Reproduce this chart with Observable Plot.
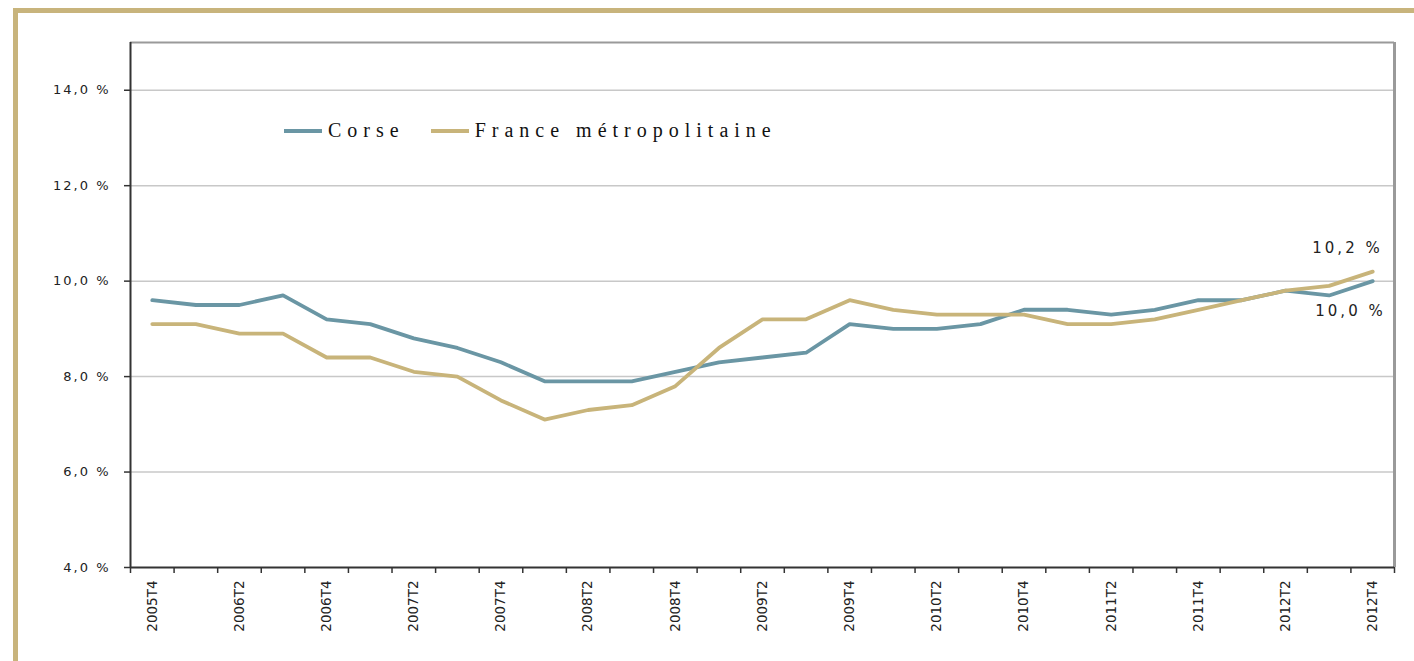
<!DOCTYPE html>
<html>
<head>
<meta charset="utf-8">
<script src="https://cdn.jsdelivr.net/npm/d3@7"></script>
<script src="https://cdn.jsdelivr.net/npm/@observablehq/plot@0.6"></script>
<style>
  body { margin: 0; background: #fff; }
  #wrap { position: relative; width: 1414px; height: 661px; overflow: hidden; background: #fff; }
  #frame { position: absolute; left: 13px; top: 8px; right: -10px; bottom: -10px;
           border-left: 5px solid #c8b47c; border-top: 5px solid #c8b47c; }
  #chart { position: absolute; left: 0; top: 0; }
  #legend { position: absolute; left: 284px; top: 119px; font-family: "Liberation Serif", serif;
            font-size: 20px; letter-spacing: 6px; color: #111; display: flex; align-items: center; white-space: nowrap; }
  #legend .sw { display: inline-block; width: 38px; height: 4px; margin-right: 6px; }
  #legend .it { display: flex; align-items: center; }
  #legend .it + .it { margin-left: 26px; }
</style>
</head>
<body>
<div id="wrap">
  <div id="frame"></div>
  <div id="chart"></div>
  <div id="legend"></div>
</div>
<script>
const quarters = ["2005T4","2006T1","2006T2","2006T3","2006T4","2007T1","2007T2","2007T3","2007T4",
  "2008T1","2008T2","2008T3","2008T4","2009T1","2009T2","2009T3","2009T4",
  "2010T1","2010T2","2010T3","2010T4","2011T1","2011T2","2011T3","2011T4",
  "2012T1","2012T2","2012T3","2012T4"];
const corse = [9.6,9.5,9.5,9.7,9.2,9.1,8.8,8.6,8.3,7.9,7.9,7.9,8.1,8.3,8.4,8.5,9.1,9.0,9.0,9.1,9.4,9.4,9.3,9.4,9.6,9.6,9.8,9.7,10.0];
const france = [9.1,9.1,8.9,8.9,8.4,8.4,8.1,8.0,7.5,7.1,7.3,7.4,7.8,8.6,9.2,9.2,9.6,9.4,9.3,9.3,9.3,9.1,9.1,9.2,9.4,9.6,9.8,9.9,10.2];
const seriesNames = ["Corse", "France métropolitaine"];
const seriesColors = ["#6a96a4", "#c8b47a"];
const yTicks = [4, 6, 8, 10, 12, 14];
const yMax = 15;

const fmt = v => v.toFixed(1).replace(".", ",") + " %";
const seriesValues = [corse, france];
const rows = [];
seriesNames.forEach((s, k) => quarters.forEach((q, i) => rows.push({i, q, s, v: seriesValues[k][i]})));
const last = quarters.length - 1;
const endRows = seriesNames.map((s, k) => ({i: last, s, v: seriesValues[k][last], k}));

const plot = Plot.plot({
  width: 1414, height: 661,
  marginLeft: 130, marginRight: 20, marginTop: 42, marginBottom: 94,
  style: { fontFamily: "DejaVu Sans, sans-serif", background: "transparent", overflow: "visible" },
  x: { type: "linear", domain: [-0.5, quarters.length - 0.5], label: null },
  y: { domain: [yTicks[0], yMax], label: null },
  color: { domain: seriesNames, range: seriesColors },
  marks: [
    Plot.gridY(yTicks.slice(1), { stroke: "#c8c8c8", strokeOpacity: 1, strokeWidth: 1.5 }),
    Plot.ruleY([yMax], { stroke: "#9a9a9a", strokeWidth: 2 }),
    Plot.ruleX([quarters.length - 0.5], { stroke: "#9a9a9a", strokeWidth: 3 }),
    Plot.axisY(yTicks, { tickSize: 6, tickPadding: 14, tickFormat: fmt, fontSize: 13, stroke: "#333", strokeWidth: 1.5, fill: "#222", label: null }),
    Plot.axisX(d3.range(-0.5, quarters.length, 1), { tickSize: 6, tickFormat: () => "", stroke: "#333", strokeWidth: 1.5, label: null }),
    Plot.axisX(d3.range(0, quarters.length, 2), { tickSize: 0, tickPadding: 13, tickRotate: -90, tickFormat: i => quarters[i], fontSize: 13.5, fill: "#222", label: null }),
    Plot.ruleX([-0.5], { stroke: "#333", strokeWidth: 2 }),
    Plot.ruleY([yTicks[0]], { stroke: "#333", strokeWidth: 2 }),
    Plot.line(rows, { x: "i", y: "v", z: "s", stroke: "s", strokeWidth: 3.8 }),
    Plot.text(endRows, { x: "i", y: "v", text: d => fmt(d.v), textAnchor: "end",
      dx: 10, fontSize: 15, fill: "#222", filter: d => d.k === 1, dy: -23 }),
    Plot.text(endRows, { x: "i", y: "v", text: d => fmt(d.v), textAnchor: "end",
      dx: 13, fontSize: 15, fill: "#222", filter: d => d.k === 0, dy: 30 })
  ]
});
document.getElementById("chart").appendChild(plot);
const svg = d3.select(plot);
svg.selectAll('g[aria-label="y-axis tick label"] text').style("letter-spacing", "2px");
svg.selectAll('g[aria-label="text"] text').style("letter-spacing", "3px");

const legend = document.getElementById("legend");
seriesNames.forEach((s, k) => {
  const it = document.createElement("span");
  it.className = "it";
  const sw = document.createElement("span");
  sw.className = "sw";
  sw.style.background = seriesColors[k];
  const tx = document.createElement("span");
  tx.textContent = s;
  it.appendChild(sw); it.appendChild(tx);
  legend.appendChild(it);
});
</script>
</body>
</html>
